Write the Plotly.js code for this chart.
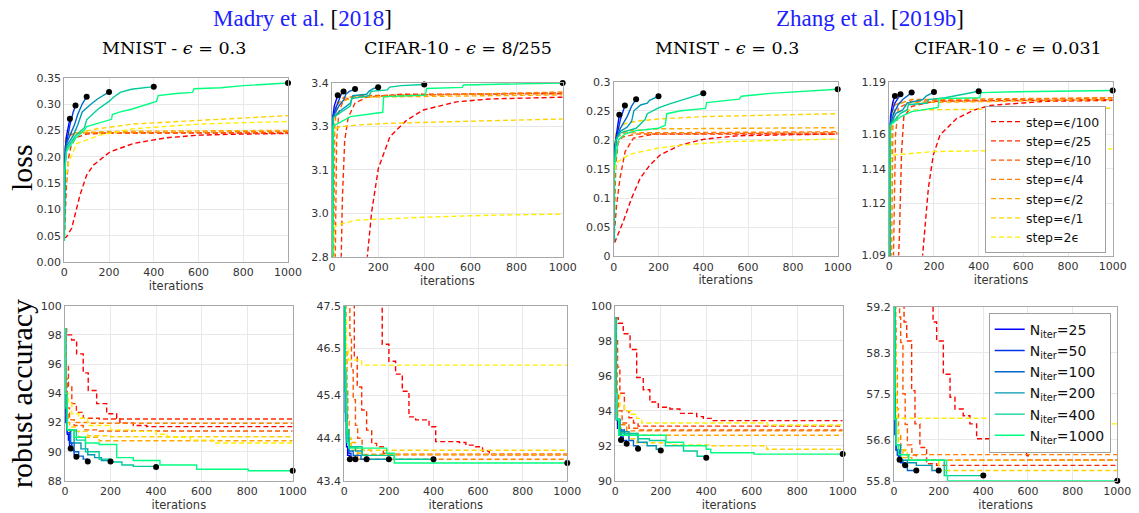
<!DOCTYPE html>
<html><head><meta charset="utf-8">
<script src="https://cdn.plot.ly/plotly-3.0.1.min.js"></script>
<style>html,body{margin:0;padding:0;background:#fff;} #chart{width:1139px;height:513px;}</style>
</head><body><div id="chart"></div>
<script>
// ---------- categories ----------
const STEP_LABELS = ['step=ϵ/100','step=ϵ/25','step=ϵ/10','step=ϵ/4','step=ϵ/2','step=ϵ/1','step=2ϵ'];
const NITER_VALUES = [25, 50, 100, 200, 400, 1000];
const NITER_LABELS = NITER_VALUES.map(v => 'N<sub>iter</sub>=' + v);
const X_TICKS = [0, 200, 400, 600, 800, 1000];

// ---------- tick labels ----------
const P1_YTICKS = [0,0.05,0.1,0.15,0.2,0.25,0.3,0.35];
const P1_YTEXT = ['0.00','0.05','0.10','0.15','0.20','0.25','0.30','0.35'];
const P2_YTICKS = [2.8,2.95,3.1,3.25,3.4];
const P2_YTEXT = ['2.8','3.0','3.1','3.3','3.4'];
const P3_YTICKS = [0,0.05,0.1,0.15,0.2,0.25,0.3];
const P3_YTEXT = ['0','0.05','0.1','0.15','0.2','0.25','0.3'];
const P4_YTICKS = [1.09,1.12,1.14,1.16,1.19];
const P4_YTEXT = ['1.09','1.12','1.14','1.16','1.19'];
const P5_YTICKS = [88,90,92,94,96,98,100];
const P5_YTEXT = ['88','90','92','94','96','98','100'];
const P6_YTICKS = [43.4,44.4,45.4,46.5,47.5];
const P6_YTEXT = ['43.4','44.4','45.4','46.5','47.5'];
const P7_YTICKS = [90,92,94,96,98,100];
const P7_YTEXT = ['90','92','94','96','98','100'];
const P8_YTICKS = [55.8,56.6,57.5,58.3,59.2];
const P8_YTEXT = ['55.8','56.6','57.5','58.3','59.2'];

// ---------- Panel 1: Madry, MNIST, loss ----------
const P1_STEP_X = [
 [0,10,33,70,100,130,204,308,457,606,800,1000],
 [0,5,10,20,30,50,100,200,1000],
 [0,2,5,10,20,50,1000],
 [0,2,5,10,30,1000],
 [0,1,3,8,30,200,1000],
 [0,1,3,10,50,150,308,606,1000],
 [0,2,8,18,55,160,308,606,1000]];
const P1_STEP_Y = [
 [0.045,0.048,0.064,0.127,0.165,0.184,0.209,0.225,0.236,0.241,0.243,0.244],
 [0.045,0.10,0.15,0.20,0.22,0.236,0.243,0.245,0.245],
 [0.045,0.12,0.20,0.23,0.24,0.245,0.246],
 [0.045,0.18,0.23,0.24,0.245,0.248],
 [0.045,0.17,0.22,0.24,0.245,0.248,0.25],
 [0.045,0.16,0.20,0.23,0.245,0.253,0.262,0.269,0.278],
 [0.045,0.12,0.16,0.187,0.225,0.241,0.253,0.262,0.267]];
const P1_N_X = [
 [0,1,3,10,18,25],
 [0,1,5,15,25,40,50],
 [0,1,10,30,45,60,80,100],
 [0,1,10,40,60,80,120,150,200],
 [0,1,10,50,90,100,150,200,220,250,300,400],
 [0,1,10,50,89,100,211,215,250,300,412,420,500,573,580,700,800,1000]];
const P1_N_Y = [
 [0.04,0.17,0.21,0.24,0.26,0.272],
 [0.04,0.17,0.215,0.24,0.26,0.285,0.297],
 [0.04,0.17,0.225,0.245,0.26,0.28,0.30,0.314],
 [0.04,0.17,0.22,0.24,0.26,0.285,0.30,0.31,0.323],
 [0.04,0.17,0.215,0.24,0.255,0.27,0.29,0.305,0.313,0.322,0.328,0.333],
 [0.04,0.17,0.21,0.235,0.25,0.257,0.271,0.28,0.285,0.29,0.305,0.316,0.32,0.322,0.329,0.331,0.335,0.34]];

// ---------- Panel 2: Madry, CIFAR-10, loss ----------
const P2_STEP_X = [
 [0,100,140,153,172,201,251,324,396,540,685,1000],
 [0,30,40,45,55,70,100,150,300,1000],
 [0,10,15,20,30,50,100,1000],
 [0,5,8,12,20,50,1000],
 [0,2,4,8,20,100,1000],
 [0,2,10,35,107,251,540,1000],
 [0,5,10,20,107,396,685,1000]];
const P2_STEP_Y = [
 [1.5,2.2,2.6,2.8,2.955,3.105,3.214,3.271,3.306,3.334,3.344,3.35],
 [1.5,2.6,2.8,3.0,3.2,3.28,3.33,3.35,3.36,3.362],
 [1.8,2.6,2.9,3.2,3.3,3.34,3.355,3.365],
 [2.0,2.7,3.0,3.25,3.32,3.35,3.368],
 [2.2,2.7,3.1,3.28,3.33,3.35,3.358],
 [2.5,3.2,3.24,3.248,3.254,3.26,3.266,3.275],
 [2.4,2.85,2.90,2.909,2.926,2.936,2.943,2.947]];
const P2_N_X = [
 [0,3,10,20,25],
 [0,3,15,30,40,50],
 [0,3,30,50,60,75,100],
 [0,5,30,80,90,150,160,180,200],
 [0,5,80,85,160,170,240,250,300,400],
 [0,5,80,220,224,300,405,410,565,570,1000]];
const P2_N_Y = [
 [2.5,3.28,3.32,3.35,3.357],
 [2.5,3.28,3.31,3.34,3.36,3.37],
 [2.5,3.28,3.32,3.34,3.36,3.37,3.378],
 [2.5,3.28,3.30,3.33,3.355,3.36,3.37,3.38,3.384],
 [2.5,3.28,3.32,3.345,3.355,3.37,3.375,3.385,3.39,3.394],
 [2.5,3.25,3.283,3.298,3.352,3.355,3.357,3.38,3.384,3.392,3.399]];

// ---------- Panel 3: Zhang, MNIST, loss ----------
const P3_STEP_X = [
 [0,6,43,80,118,162,207,296,400,549,800,1000],
 [0,5,13,28,51,88,177,1000],
 [0,5,10,20,40,100,1000],
 [0,3,6,15,50,1000],
 [0,2,10,50,200,1000],
 [0,2,10,50,100,200,400,700,1000],
 [0,2,10,65,100,200,300,500,1000]];
const P3_STEP_Y = [
 [0.025,0.025,0.06,0.10,0.134,0.157,0.174,0.191,0.201,0.207,0.209,0.21],
 [0.025,0.05,0.088,0.134,0.18,0.203,0.21,0.21],
 [0.025,0.10,0.16,0.195,0.205,0.21,0.212],
 [0.025,0.12,0.18,0.205,0.212,0.214],
 [0.025,0.17,0.205,0.215,0.219,0.221],
 [0.025,0.18,0.215,0.228,0.232,0.236,0.24,0.243,0.245],
 [0.025,0.14,0.16,0.174,0.178,0.186,0.191,0.197,0.2015]];
const P3_N_X = [
 [0,1,5,15,25],
 [0,1,10,30,50],
 [0,1,10,30,60,80,100],
 [0,1,10,30,60,80,90,120,150,160,200],
 [0,1,10,30,100,140,150,200,250,300,350,400],
 [0,2,20,50,100,200,230,237,300,410,415,560,570,700,1000]];
const P3_N_Y = [
 [0.025,0.15,0.19,0.22,0.243],
 [0.025,0.15,0.20,0.235,0.259],
 [0.025,0.15,0.20,0.22,0.24,0.258,0.27],
 [0.025,0.15,0.2,0.215,0.222,0.232,0.25,0.26,0.263,0.268,0.275],
 [0.025,0.15,0.2,0.212,0.22,0.235,0.245,0.255,0.262,0.268,0.274,0.28],
 [0.025,0.15,0.2,0.21,0.216,0.22,0.225,0.245,0.25,0.254,0.264,0.27,0.275,0.28,0.287]];

// ---------- Panel 4: Zhang, CIFAR-10, loss ----------
const P4_STEP_X = [
 [0,100,149,175,197,227,301,376,451,700,1000],
 [0,35,45,55,65,100,200,1000],
 [0,15,20,28,40,100,1000],
 [0,8,12,16,25,100,1000],
 [0,4,7,10,20,1000],
 [0,2,4,8,20,100,1000],
 [0,3,8,20,200,500,1000]];
const P4_STEP_Y = [
 [0.9,1.0,1.09,1.129,1.148,1.1595,1.169,1.1738,1.1766,1.179,1.1795],
 [0.9,1.07,1.10,1.15,1.17,1.176,1.179,1.18],
 [0.9,1.07,1.10,1.16,1.175,1.179,1.181],
 [0.95,1.08,1.13,1.165,1.177,1.18,1.181],
 [0.95,1.08,1.14,1.17,1.178,1.18],
 [1.0,1.08,1.15,1.17,1.173,1.174,1.175],
 [1.0,1.10,1.145,1.148,1.15,1.1507,1.1515]];
const P4_N_X = [
 [0,2,5,15,25],
 [0,2,10,25,40,50],
 [0,3,20,40,60,80,100],
 [0,3,30,60,80,150,165,200],
 [0,3,50,80,85,170,175,250,400],
 [0,3,50,100,219,222,405,410,570,1000]];
const P4_N_Y = [
 [1.0,1.165,1.17,1.178,1.182],
 [1.0,1.165,1.172,1.178,1.181,1.183],
 [1.0,1.165,1.172,1.177,1.18,1.182,1.184],
 [1.0,1.165,1.172,1.174,1.178,1.18,1.182,1.1843],
 [1.0,1.165,1.172,1.174,1.177,1.178,1.18,1.181,1.1848],
 [1.0,1.165,1.17,1.173,1.1755,1.1805,1.181,1.184,1.1845,1.1852]];

// ---------- Panel 5: Madry, MNIST, robust accuracy ----------
const P5_STEP_X = [
 [0,7,29,51,80,102,139,183,227,241,300,359,1000],
 [0,5,15,30,50,80,150,1000],
 [0,3,10,20,40,80,150,1000],
 [0,2,5,15,40,100,1000],
 [0,2,5,20,60,150,1000],
 [0,2,10,50,100,200,1000],
 [0,5,15,30,60,100,200,300,400,450,550,650,1000]];
const P5_STEP_Y = [
 [98.4,98.0,97.65,96.7,95.4,94.2,93.3,92.6,92.3,91.95,91.8,91.72,91.72],
 [98.4,96,94.5,93.3,92.7,92.3,92.24,92.24],
 [98.4,95,93,92.2,91.8,91.5,91.42,91.42],
 [98.4,94,92.8,92.2,92.0,91.95,91.95],
 [98.4,93.5,92.0,91.4,91.0,90.76,90.76],
 [98.4,93,91.7,91.4,91.1,91.03,91.03],
 [98.4,94,93.3,92.6,92.3,91.8,91.5,91.4,91.2,91.0,90.8,90.6,90.55]];
const P5_N_X = [
 [0,2,5,10,15,20,25],
 [0,2,5,10,20,30,40,50],
 [0,2,10,25,40,60,80,100],
 [0,2,10,40,70,100,130,160,200],
 [0,2,10,50,90,150,200,250,300,400],
 [0,2,10,40,90,150,227,300,417,578,805,1000]];
const P5_N_Y = [
 [98.4,93,92,91.2,90.8,90.4,90.23],
 [98.4,93,92,91.3,90.6,90.1,89.8,89.66],
 [98.4,93,91.5,90.6,90.0,89.7,89.5,89.34],
 [98.4,93,91.5,90.6,90.2,89.8,89.6,89.4,89.34],
 [98.4,93,91.5,90.8,90.0,89.5,89.3,89.1,89.0,88.96],
 [98.4,94,91.5,91.0,90.6,90.5,89.6,89.4,89.1,88.8,88.7,88.7]];

// ---------- Panel 6: Madry, CIFAR-10, robust accuracy ----------
const P6_STEP_X = [
 [0,170,200,230,260,290,320,380,410,515,545,590,620,650,1000],
 [0,45,58,78,100,123,145,175,200,1000],
 [0,25,32,40,50,60,80,120,1000],
 [0,8,12,16,22,30,60,1000],
 [0,5,8,12,20,50,80,1000],
 [0,3,6,10,30,1000],
 [0,5,10,18,78,1000]];
const P6_STEP_Y = [
 [49,46.6,46.2,45.9,45.5,44.9,44.83,44.67,44.32,44.3,44.24,44.2,44.1,44.02,44.02],
 [49,46.3,45.6,45.06,44.59,44.28,44.2,44.05,44.02,44.02],
 [49,46.8,46.0,45.3,44.7,44.4,44.12,44.02,44.02],
 [49,46.5,45.5,44.8,44.4,44.2,43.91,43.91],
 [49,46.5,45.5,44.6,44.3,44.05,44.02,44.02],
 [49,46.5,45.0,44.4,44.12,44.12],
 [49,47.2,46.5,46.23,46.11,46.11]];
const P6_N_X = [
 [0,2,5,10,15,25],
 [0,2,5,10,20,30,50],
 [0,2,5,10,20,40,75,100],
 [0,3,10,20,50,80,100,200],
 [0,3,10,20,80,224,400],
 [0,3,8,12,20,190,224,1000]];
const P6_N_Y = [
 [49,46,44.8,44.2,44.0,43.91],
 [49,46,45,44.3,44.05,43.95,43.91],
 [49,46,45,44.4,44.1,44.0,43.91,43.91],
 [49,45.5,44.5,44.2,44.1,44.0,43.91,43.91],
 [49,45.5,44.6,44.2,44.0,43.91,43.91],
 [49,46,44.8,44.3,44.17,44.05,43.82,43.82]];

// ---------- Panel 7: Zhang, MNIST, robust accuracy ----------
const P7_STEP_X = [
 [0,13,35,65,94,123,152,189,240,284,358,387,430,1000],
 [0,5,10,20,40,60,80,100,1000],
 [0,3,8,15,30,60,100,1000],
 [0,2,5,10,20,50,1000],
 [0,2,5,10,40,100,1000],
 [0,2,10,30,60,94,250,420,666,1000],
 [0,5,20,40,70,94,116,669,1000]];
const P7_STEP_Y = [
 [99.3,99.0,98.4,97.5,95.9,95.2,94.5,94.2,94.1,93.85,93.66,93.56,93.43,93.43],
 [99.3,98,96.5,95,94,93.6,93.3,93.12,93.12],
 [99.3,97,95,94,93.3,93.0,92.9,92.9],
 [99.3,96,94,93.4,93.2,92.85,92.85],
 [99.3,95,93.5,93,92.7,92.6,92.6],
 [99.3,94.5,93,92.7,92.4,92.17,92.05,92.0,91.8,91.8],
 [99.3,95,94.3,94.0,93.8,93.56,93.3,93.18,93.18]];
const P7_N_X = [
 [0,2,5,10,15,25],
 [0,2,5,15,25,35,50],
 [0,2,5,20,40,60,80,100],
 [0,2,5,20,60,100,140,180,200],
 [0,2,5,20,100,150,220,300,360,400],
 [0,2,5,15,223,300,400,420,610,1000]];
const P7_N_Y = [
 [99.3,95,93.5,93.0,92.6,92.32],
 [99.3,95,93.5,92.9,92.5,92.3,92.11],
 [99.3,95,93.5,92.9,92.6,92.3,92.0,91.83],
 [99.3,95,93.5,92.8,92.6,92.2,92.0,91.8,91.73],
 [99.3,95,93.5,92.7,92.4,92.3,92.0,91.7,91.4,91.31],
 [99.3,95,93.5,92.6,92.2,92.0,91.8,91.6,91.52,91.52]];

// ---------- Panel 8: Zhang, CIFAR-10, robust accuracy ----------
const P8_STEP_X = [
 [0,175,191,221,251,273,310,340,370,430,490,534,594,601,1000],
 [0,45,57,79,94,116,146,191,1000],
 [0,25,30,40,50,60,80,100,1000],
 [0,8,10,15,20,30,50,1000],
 [0,4,8,12,20,40,80,1000],
 [0,2,5,10,20,60,200,1000],
 [0,3,8,12,700,1000]];
const P8_STEP_Y = [
 [60,58.9,58.53,57.88,57.43,57.2,57.07,56.91,56.62,56.52,56.42,56.36,56.29,56.2,56.2],
 [60,58.9,58.53,57.56,56.91,56.45,56.13,56.1,56.1],
 [60,59.0,58.5,57.5,56.9,56.5,56.3,56.2,56.2],
 [60,58.8,58,57.2,56.7,56.4,56.31,56.31],
 [60,58.5,57.5,56.8,56.4,56.25,56.2,56.2],
 [60,58.5,57.5,56.8,56.4,56.2,56.0,56.0],
 [60,58.5,57.2,57.02,56.91,56.91]];
const P8_N_X = [
 [0,2,5,10,15,25],
 [0,2,5,10,20,30,50],
 [0,3,10,25,40,60,100],
 [0,3,10,30,60,100,170,200],
 [0,3,10,20,65,225,400],
 [0,3,10,20,65,235,240,1000]];
const P8_N_Y = [
 [60,57.5,56.7,56.4,56.3,56.21],
 [60,57.5,56.7,56.4,56.2,56.15,56.1],
 [60,57,56.4,56.2,56.1,56.0,56.0],
 [60,57,56.5,56.2,56.15,56.1,56.0,56.0],
 [60,57,56.5,56.31,56.2,55.9,55.9],
 [60,57,56.5,56.31,56.2,55.9,55.8,55.8]];

// ---------- styles ----------
const STEP_COLORS = ['#ff0000','#ff2a00','#ff5500','#ff8000','#ffaa00','#ffd400','#ffee00'];
const N_COLORS = ['#0000ff','#0033e6','#0066cc','#0099b3','#00cc99','#00ff80'];
const W = 1139, H = 513;
const fx = v => v / W, fy = v => 1 - v / H;

const PANELS = [
 {sx:P1_STEP_X, sy:P1_STEP_Y, nx:P1_N_X, ny:P1_N_Y, shape:'linear', box:[64.3,288,77.7,262], yr:[0,0.35], tv:P1_YTICKS, tt:P1_YTEXT},
 {sx:P2_STEP_X, sy:P2_STEP_Y, nx:P2_N_X, ny:P2_N_Y, shape:'linear', box:[332,562.7,82.7,256.7], yr:[2.8,3.4], tv:P2_YTICKS, tt:P2_YTEXT},
 {sx:P3_STEP_X, sy:P3_STEP_Y, nx:P3_N_X, ny:P3_N_Y, shape:'linear', box:[613.7,837.7,81.7,256.3], yr:[0,0.3], tv:P3_YTICKS, tt:P3_YTEXT},
 {sx:P4_STEP_X, sy:P4_STEP_Y, nx:P4_N_X, ny:P4_N_Y, shape:'linear', box:[889.3,1112.7,82.2,255.5], yr:[1.09,1.19], tv:P4_YTICKS, tt:P4_YTEXT},
 {sx:P5_STEP_X, sy:P5_STEP_Y, nx:P5_N_X, ny:P5_N_Y, shape:'hv', box:[65,292.7,305.7,481], yr:[88,100], tv:P5_YTICKS, tt:P5_YTEXT},
 {sx:P6_STEP_X, sy:P6_STEP_Y, nx:P6_N_X, ny:P6_N_Y, shape:'hv', box:[344.3,567.3,305.7,481], yr:[43.4,47.5], tv:P6_YTICKS, tt:P6_YTEXT},
 {sx:P7_STEP_X, sy:P7_STEP_Y, nx:P7_N_X, ny:P7_N_Y, shape:'hv', box:[615.3,842.7,305.7,480.7], yr:[90,100], tv:P7_YTICKS, tt:P7_YTEXT},
 {sx:P8_STEP_X, sy:P8_STEP_Y, nx:P8_N_X, ny:P8_N_Y, shape:'hv', box:[894,1117.3,306.7,480.7], yr:[55.8,59.2], tv:P8_YTICKS, tt:P8_YTEXT}
];

const tickFont = {family:'DejaVu Sans, sans-serif', size:11, color:'#333333'};
const traces = [];
const layout = {
  width: W, height: H, margin:{l:0,r:0,t:0,b:0},
  paper_bgcolor:'#ffffff', plot_bgcolor:'#ffffff', hovermode:false,
  showlegend:true,
  legend:{x:fx(1106), xanchor:'right', y:fy(253), yanchor:'bottom', bgcolor:'#ffffff', bordercolor:'#a0a0a0', borderwidth:1,
          font:{family:'DejaVu Sans, sans-serif', size:12.5, color:'#111'}, itemwidth:30, tracegroupgap:0},
  legend2:{x:fx(1110.7), xanchor:'right', y:fy(312.7), yanchor:'top', bgcolor:'#ffffff', bordercolor:'#a0a0a0', borderwidth:1,
          font:{family:'DejaVu Sans, sans-serif', size:14, color:'#111'}, itemwidth:30, tracegroupgap:0},
  annotations:[], shapes:[]
};

PANELS.forEach((p, i) => {
  const k = i + 1;
  const xa = 'x' + k, ya = 'y' + k;
  p.sx.forEach((xs, s) => {
    traces.push({x:xs, y:p.sy[s], xaxis:xa, yaxis:ya, type:'scatter', mode:'lines',
      name:STEP_LABELS[s], legend:'legend', showlegend:k===4, hoverinfo:'skip',
      line:{color:STEP_COLORS[s], width:1.4, dash:'5px,3px', shape:p.shape}});
  });
  p.nx.forEach((xs, n) => {
    traces.push({x:xs, y:p.ny[n], xaxis:xa, yaxis:ya, type:'scatter', mode:'lines',
      name:NITER_LABELS[n], legend:'legend2', showlegend:k===8, hoverinfo:'skip',
      line:{color:N_COLORS[n], width:1.4, shape:p.shape}});
  });
  traces.push({x:p.nx.map(a => a[a.length-1]), y:p.ny.map(a => a[a.length-1]), xaxis:xa, yaxis:ya,
    type:'scatter', mode:'markers', showlegend:false, hoverinfo:'skip', cliponaxis:false,
    marker:{color:'#000', size:6}});
  const b = p.box;
  layout['xaxis' + (k===1?'':k)] = {domain:[fx(b[0]), fx(b[1])], anchor:ya, range:[0,1000], tickvals:X_TICKS,
    showgrid:true, gridcolor:'#e8e8e8', gridwidth:1, zeroline:false, showline:true, mirror:true, linecolor:'#a8a8a8', linewidth:1,
    ticks:'', tickfont:tickFont, automargin:false,
    title:{text:'iterations', font:{family:'DejaVu Sans, sans-serif', size:11.5, color:'#333333'}, standoff:1}};
  layout['yaxis' + (k===1?'':k)] = {domain:[fy(b[3]), fy(b[2])], anchor:xa, range:p.yr, tickvals:p.tv, ticktext:p.tt,
    showgrid:true, gridcolor:'#e8e8e8', gridwidth:1, zeroline:false, showline:true, mirror:true, linecolor:'#a8a8a8', linewidth:1,
    ticks:'', tickfont:tickFont, automargin:false};
});

const serif = 'Liberation Serif, DejaVu Serif, serif';
const wideSerif = 'DejaVu Serif, Liberation Serif, serif';
const blue = '#2020ff';
function note(text, x, y, size, color, angle, fam) {
  return {text:text, x:fx(x), y:fy(y), xref:'paper', yref:'paper', xanchor:'center', yanchor:'middle',
          showarrow:false, textangle:angle || 0, font:{family:fam || serif, size:size, color:color}};
}
layout.annotations = [
  note('Madry et al. <span style="color:#000">[</span>2018<span style="color:#000">]</span>', 302, 18, 23, blue),
  note('Zhang et al. <span style="color:#000">[</span>2019b<span style="color:#000">]</span>', 870, 18, 23, blue),
  note('MNIST - <i>ϵ</i> = 0.3', 174, 48, 17.5, '#000', 0, wideSerif),
  note('CIFAR-10 - <i>ϵ</i> = 8/255', 458, 48, 17.5, '#000', 0, wideSerif),
  note('MNIST - <i>ϵ</i> = 0.3', 727, 48, 17.5, '#000', 0, wideSerif),
  note('CIFAR-10 - <i>ϵ</i> = 0.031', 1008, 48, 17.5, '#000', 0, wideSerif),
  note('loss', 21, 168, 30, '#000', -90),
  note('robust accuracy', 21, 394, 30, '#000', -90)
];

Plotly.newPlot('chart', traces, layout, {staticPlot:true, displayModeBar:false});
</script>
</body></html>
